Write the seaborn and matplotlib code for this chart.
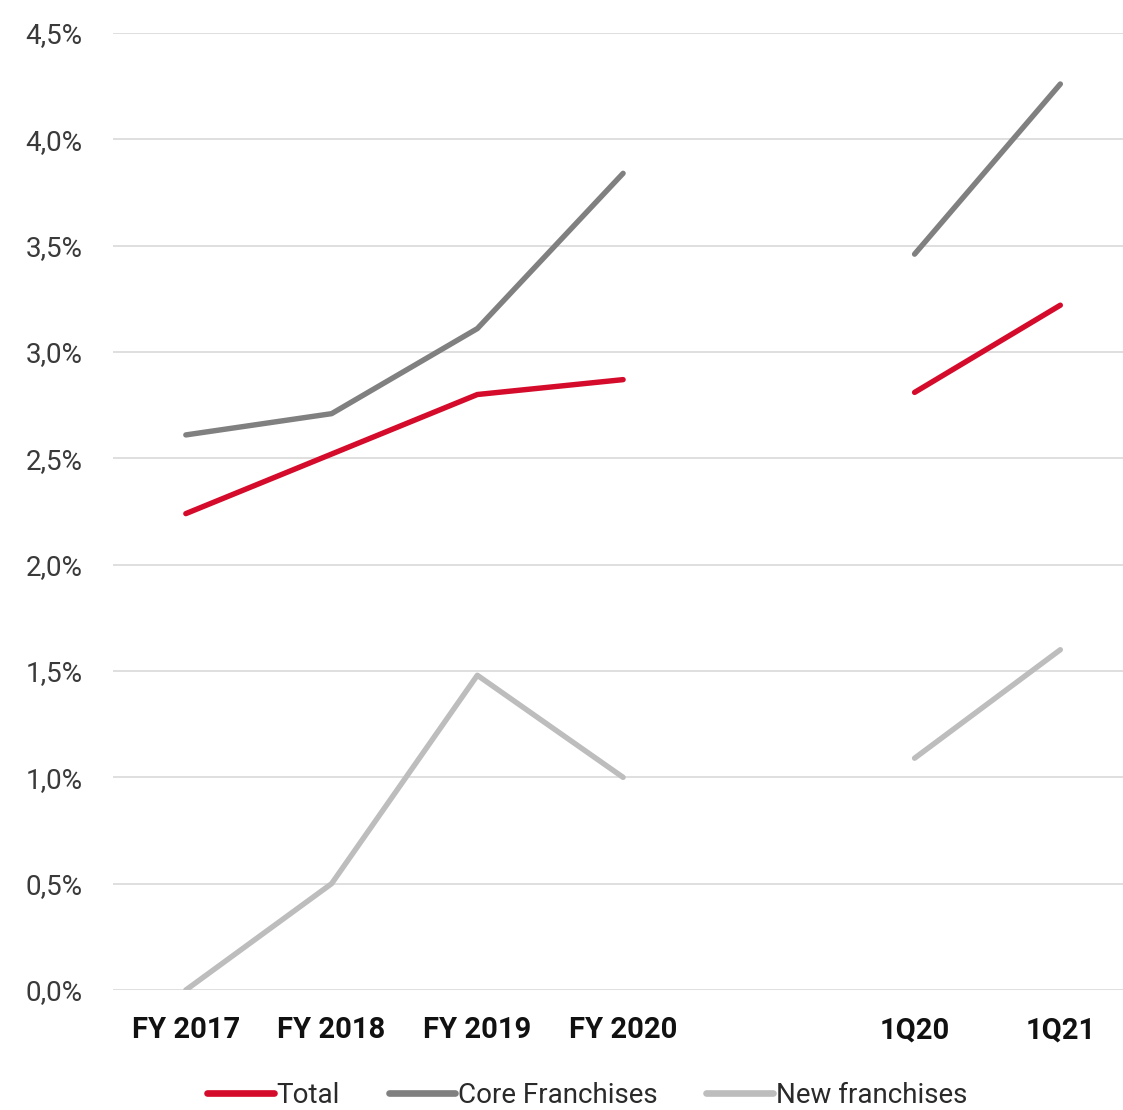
import matplotlib.pyplot as plt
import seaborn as sns
import pandas as pd
from matplotlib.ticker import FuncFormatter

sns.set_theme(style="white")
plt.rcParams['font.family'] = ['Roboto', 'DejaVu Sans']

# categories (empty slot keeps the gap between annual and quarterly data)
categories = ["FY 2017", "FY 2018", "FY 2019", "FY 2020", "", "1Q20", "1Q21"]
segments = ["FY", "FY", "FY", "FY", None, "Q", "Q"]

total = [2.24, 2.52, 2.80, 2.87, None, 2.81, 3.22]
core = [2.61, 2.71, 3.11, 3.84, None, 3.46, 4.26]
new = [0.00, 0.50, 1.48, 1.00, None, 1.09, 1.60]

series_names = ["Total", "Core Franchises", "New franchises"]
colors = ["#D50B2B", "#808080", "#BDBDBD"]

rows = []
for name, vals in zip(series_names, [total, core, new]):
    for i, (v, seg) in enumerate(zip(vals, segments)):
        if v is None:
            continue
        rows.append({"x": i, "value": v, "series": name, "segment": seg})
df = pd.DataFrame(rows)

fig = plt.figure(figsize=(11.23, 11.10), dpi=100)
ax = fig.add_axes([0.1006, 0.1081, 0.8994, 0.8622])

sns.lineplot(data=df, x="x", y="value", hue="series", units="segment",
             estimator=None, hue_order=series_names,
             palette=dict(zip(series_names, colors)),
             linewidth=3.9, solid_capstyle="round", ax=ax, legend=False)

ax.set_xlim(-0.5, 6.43)
ax.set_ylim(0, 4.5)
ax.set_yticks([i * 0.5 for i in range(10)])
ax.yaxis.set_major_formatter(FuncFormatter(lambda v, p: f"{v:.1f}%".replace(".", ",")))
ax.set_xticks(range(len(categories)))
ax.set_xticklabels(categories, fontsize=21, fontweight="bold", color="#111111")
ax.tick_params(axis="y", labelsize=20, labelcolor="#3a3a3a", length=0, pad=22)
ax.tick_params(axis="x", length=0, pad=19)
ax.set_xlabel("")
ax.set_ylabel("")
ax.grid(axis="y", color="#D9D9D9", linewidth=1.2)
ax.set_axisbelow(True)
for s in ax.spines.values():
    s.set_visible(False)

handles = [plt.Line2D([], [], color=c, linewidth=4.8) for c in colors]
leg = fig.legend(handles, series_names, loc="center", bbox_to_anchor=(0.523, 0.013),
                 ncol=3, frameon=False, handlelength=2.4,
                 handletextpad=0.1, columnspacing=1.75,
                 prop={"family": ["Roboto", "DejaVu Sans"], "size": 20})
for t in leg.get_texts():
    t.set_color("#2a2a2a")

fig.savefig("out.png", dpi=100)
